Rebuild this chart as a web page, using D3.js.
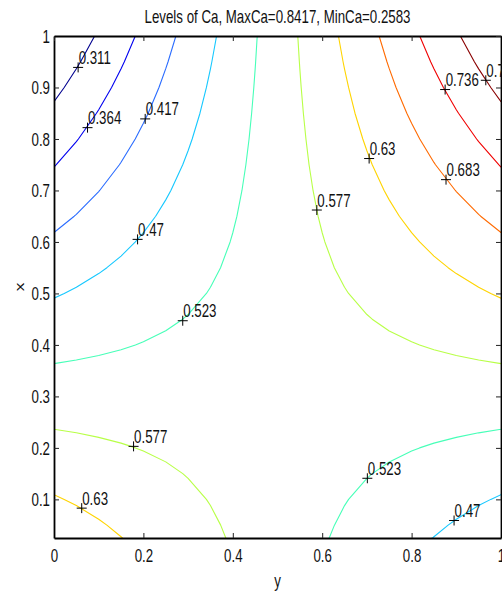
<!DOCTYPE html>
<html>
<head>
<meta charset="utf-8">
<script src="https://cdn.jsdelivr.net/npm/d3@7"></script>
<style>
  html, body { margin: 0; padding: 0; background: #fff; }
  svg { display: block; }
  text { font-family: "Liberation Sans", Arial, sans-serif; fill: #111; }
</style>
</head>
<body>
<div id="chart"></div>
<script>
// ---- data ----
const titleText = "Levels of Ca, MaxCa=0.8417, MinCa=0.2583";
const xLabel = "y";
const yLabel = "x";

// grid columns (horizontal axis "y") and rows (vertical axis "x")
const gridCols = [0,0.05,0.1,0.15,0.2,0.25,0.3,0.35,0.4,0.45,0.5,0.55,0.6,0.65,0.7,0.75,0.8,0.85,0.9,0.95,1];
const gridRows = [0.025,0.05,0.1,0.15,0.2,0.25,0.3,0.35,0.4,0.45,0.5,0.55,0.6,0.65,0.7,0.75,0.8,0.85,0.9,0.95,1];

// Ca values, one row per entry of gridRows (bottom to top), one column per entry of gridCols
const caGrid = [
  [0.6646,0.6531,0.6417,0.6302,0.6188,0.6073,0.5958,0.5844,0.5729,0.5615,0.5500,0.5385,0.5271,0.5156,0.5042,0.4927,0.4813,0.4698,0.4583,0.4469,0.4354],
  [0.6542,0.6438,0.6333,0.6229,0.6125,0.6021,0.5917,0.5813,0.5708,0.5604,0.5500,0.5396,0.5292,0.5188,0.5083,0.4979,0.4875,0.4771,0.4667,0.4563,0.4458],
  [0.6333,0.6250,0.6167,0.6083,0.6000,0.5917,0.5833,0.5750,0.5667,0.5583,0.5500,0.5417,0.5333,0.5250,0.5167,0.5083,0.5000,0.4917,0.4833,0.4750,0.4667],
  [0.6125,0.6063,0.6000,0.5938,0.5875,0.5813,0.5750,0.5688,0.5625,0.5563,0.5500,0.5438,0.5375,0.5313,0.5250,0.5188,0.5125,0.5063,0.5000,0.4938,0.4875],
  [0.5917,0.5875,0.5833,0.5792,0.5750,0.5708,0.5667,0.5625,0.5583,0.5542,0.5500,0.5458,0.5417,0.5375,0.5333,0.5292,0.5250,0.5208,0.5167,0.5125,0.5083],
  [0.5708,0.5688,0.5667,0.5646,0.5625,0.5604,0.5583,0.5563,0.5542,0.5521,0.5500,0.5479,0.5458,0.5438,0.5417,0.5396,0.5375,0.5354,0.5333,0.5313,0.5292],
  [0.5500,0.5500,0.5500,0.5500,0.5500,0.5500,0.5500,0.5500,0.5500,0.5500,0.5500,0.5500,0.5500,0.5500,0.5500,0.5500,0.5500,0.5500,0.5500,0.5500,0.5500],
  [0.5292,0.5313,0.5333,0.5354,0.5375,0.5396,0.5417,0.5438,0.5458,0.5479,0.5500,0.5521,0.5542,0.5563,0.5583,0.5604,0.5625,0.5646,0.5667,0.5688,0.5708],
  [0.5083,0.5125,0.5167,0.5208,0.5250,0.5292,0.5333,0.5375,0.5417,0.5458,0.5500,0.5542,0.5583,0.5625,0.5667,0.5708,0.5750,0.5792,0.5833,0.5875,0.5917],
  [0.4875,0.4938,0.5000,0.5063,0.5125,0.5188,0.5250,0.5313,0.5375,0.5438,0.5500,0.5563,0.5625,0.5688,0.5750,0.5813,0.5875,0.5938,0.6000,0.6063,0.6125],
  [0.4667,0.4750,0.4833,0.4917,0.5000,0.5083,0.5167,0.5250,0.5333,0.5417,0.5500,0.5583,0.5667,0.5750,0.5833,0.5917,0.6000,0.6083,0.6167,0.6250,0.6333],
  [0.4458,0.4563,0.4667,0.4771,0.4875,0.4979,0.5083,0.5188,0.5292,0.5396,0.5500,0.5604,0.5708,0.5813,0.5917,0.6021,0.6125,0.6229,0.6333,0.6438,0.6542],
  [0.4250,0.4375,0.4500,0.4625,0.4750,0.4875,0.5000,0.5125,0.5250,0.5375,0.5500,0.5625,0.5750,0.5875,0.6000,0.6125,0.6250,0.6375,0.6500,0.6625,0.6750],
  [0.4042,0.4188,0.4333,0.4479,0.4625,0.4771,0.4917,0.5063,0.5208,0.5354,0.5500,0.5646,0.5792,0.5938,0.6083,0.6229,0.6375,0.6521,0.6667,0.6813,0.6958],
  [0.3833,0.4000,0.4167,0.4333,0.4500,0.4667,0.4833,0.5000,0.5167,0.5333,0.5500,0.5667,0.5833,0.6000,0.6167,0.6333,0.6500,0.6667,0.6833,0.7000,0.7167],
  [0.3625,0.3813,0.4000,0.4188,0.4375,0.4563,0.4750,0.4938,0.5125,0.5313,0.5500,0.5688,0.5875,0.6063,0.6250,0.6438,0.6625,0.6813,0.7000,0.7188,0.7375],
  [0.3417,0.3625,0.3833,0.4042,0.4250,0.4458,0.4667,0.4875,0.5083,0.5292,0.5500,0.5708,0.5917,0.6125,0.6333,0.6542,0.6750,0.6958,0.7167,0.7375,0.7583],
  [0.3208,0.3438,0.3667,0.3896,0.4125,0.4354,0.4583,0.4813,0.5042,0.5271,0.5500,0.5729,0.5958,0.6188,0.6417,0.6646,0.6875,0.7104,0.7333,0.7563,0.7792],
  [0.3000,0.3250,0.3500,0.3750,0.4000,0.4250,0.4500,0.4750,0.5000,0.5250,0.5500,0.5750,0.6000,0.6250,0.6500,0.6750,0.7000,0.7250,0.7500,0.7750,0.8000],
  [0.2792,0.3063,0.3333,0.3604,0.3875,0.4146,0.4417,0.4688,0.4958,0.5229,0.5500,0.5771,0.6042,0.6313,0.6583,0.6854,0.7125,0.7396,0.7667,0.7938,0.8208],
  [0.2583,0.2875,0.3167,0.3458,0.3750,0.4042,0.4333,0.4625,0.4917,0.5208,0.5500,0.5792,0.6083,0.6375,0.6667,0.6958,0.7250,0.7542,0.7833,0.8125,0.8417]
];

// contour levels and their printed labels
const levels = [0.3114,0.3644,0.4174,0.4705,0.5235,0.5765,0.6295,0.6826,0.7356,0.7886];
const levelLabels = ["0.311","0.364","0.417","0.47","0.523","0.577","0.63","0.683","0.736","0.789"];
const levelColors = ["#00008f","#0000f0","#2a6cff","#16c8ff","#47ffb8","#b8ff47","#ffd400","#ff6a00","#f00000","#8a0000"];

// clabel '+' positions: level index, horizontal value, vertical value
const labelLevel = [0,1,2,3,4,5,6,4,3,5,6,7,8,9];
const labelU = [0.054,0.075,0.204,0.187,0.288,0.178,0.062,0.701,0.895,0.588,0.705,0.877,0.875,0.966];
const labelV = [0.939,0.822,0.839,0.605,0.447,0.203,0.083,0.141,0.059,0.662,0.762,0.721,0.896,0.914];

// axis ticks
const xTicks = [0,0.2,0.4,0.6,0.8,1];
const xTickLabels = ["0","0.2","0.4","0.6","0.8","1"];
const yTicks = [0.1,0.2,0.3,0.4,0.5,0.6,0.7,0.8,0.9,1];
const yTickLabels = ["0.1","0.2","0.3","0.4","0.5","0.6","0.7","0.8","0.9","1"];

// ---- drawing ----
const W = 502, H = 596;
const plot = { left: 54, right: 501, top: 36, bottom: 538 };
const fontSize = 17.5;
const squeeze = 0.76;

const svg = d3.select("#chart").append("svg").attr("width", W).attr("height", H);

const x = d3.scaleLinear().domain([0, 1]).range([plot.left, plot.right]);
const y = d3.scaleLinear().domain([0.025, 1]).range([plot.bottom, plot.top]);

// grid index -> data value (piecewise linear, extrapolating beyond the edges)
const colIndex = d3.scaleLinear().domain(d3.range(gridCols.length)).range(gridCols);
const rowIndex = d3.scaleLinear().domain(d3.range(gridRows.length)).range(gridRows);

svg.append("defs").append("clipPath").attr("id", "plotclip")
  .append("rect")
  .attr("x", plot.left).attr("y", plot.top)
  .attr("width", plot.right - plot.left).attr("height", plot.bottom - plot.top);

const nx = gridCols.length, ny = gridRows.length;
const flat = caGrid.flat();
const contours = d3.contours().size([nx, ny]).thresholds(levels)(flat);

const line = d3.line();
const toPx = p => [x(colIndex(p[0] - 0.5)), y(rowIndex(p[1] - 0.5))];

const gLines = svg.append("g").attr("clip-path", "url(#plotclip)");
contours.forEach(c => {
  const li = levels.indexOf(c.value);
  let d = "";
  c.coordinates.forEach(poly => poly.forEach(ring => { d += line(ring.map(toPx)); }));
  gLines.append("path")
    .attr("d", d)
    .attr("fill", "none")
    .attr("stroke", levelColors[li])
    .attr("stroke-width", 1.1)
    .attr("stroke-linejoin", "round");
});

// axes with inward ticks on all four sides
function styleAxis(g) {
  g.selectAll(".domain").attr("stroke", "#000").attr("stroke-width", 1.8);
  g.selectAll(".tick line").attr("stroke", "#222").attr("stroke-width", 1);
  g.selectAll("text").style("font-size", fontSize + "px")
    .style("font-family", '"Liberation Sans", Arial, sans-serif').attr("fill", "#111");
}

const gx = svg.append("g").attr("transform", `translate(0,${plot.bottom})`)
  .call(d3.axisBottom(x).tickValues(xTicks).tickSize(-5).tickSizeOuter(0)
    .tickFormat((d, i) => xTickLabels[i]));
styleAxis(gx);
gx.selectAll(".tick text").attr("y", 24).attr("dy", null).attr("transform", `scale(${squeeze},1)`);

const gy = svg.append("g").attr("transform", `translate(${plot.left},0)`)
  .call(d3.axisLeft(y).tickValues(yTicks).tickSize(-5).tickSizeOuter(0)
    .tickFormat((d, i) => yTickLabels[i]));
styleAxis(gy);
gy.selectAll(".tick text").attr("x", -5.3).attr("dy", "0.36em").attr("transform", `scale(${squeeze},1)`);

const gt = svg.append("g").attr("transform", `translate(0,${plot.top})`)
  .call(d3.axisTop(x).tickValues(xTicks).tickSize(-5).tickSizeOuter(0).tickFormat(""));
styleAxis(gt);

const gr = svg.append("g").attr("transform", `translate(${plot.right},0)`)
  .call(d3.axisRight(y).tickValues(yTicks).tickSize(-5).tickSizeOuter(0).tickFormat(""));
styleAxis(gr);

// contour labels with '+' markers
const gLab = svg.append("g");
labelLevel.forEach((li, i) => {
  const px = x(labelU[i]), py = y(labelV[i]);
  gLab.append("path")
    .attr("d", `M${px - 5},${py}H${px + 5}M${px},${py - 5}V${py + 5}`)
    .attr("stroke", "#000").attr("stroke-width", 1).attr("fill", "none");
  gLab.append("text")
    .attr("transform", `translate(${px + 0.5},${py - 3.5}) scale(${squeeze},1)`)
    .style("font-size", fontSize + "px")
    .text(levelLabels[li]);
});

// title and axis labels
svg.append("text")
  .attr("transform", `translate(${(plot.left + plot.right) / 2},22.5) scale(${squeeze},1)`)
  .attr("text-anchor", "middle")
  .style("font-size", fontSize + "px")
  .text(titleText);

svg.append("text")
  .attr("transform", `translate(${(plot.left + plot.right) / 2},587) scale(${squeeze},1)`)
  .attr("text-anchor", "middle")
  .style("font-size", fontSize + "px")
  .text(xLabel);

svg.append("text")
  .attr("transform", `translate(24,${(plot.top + plot.bottom) / 2}) scale(${squeeze},1) rotate(-90)`)
  .attr("text-anchor", "middle")
  .style("font-size", fontSize + "px")
  .text(yLabel);
</script>
</body>
</html>
